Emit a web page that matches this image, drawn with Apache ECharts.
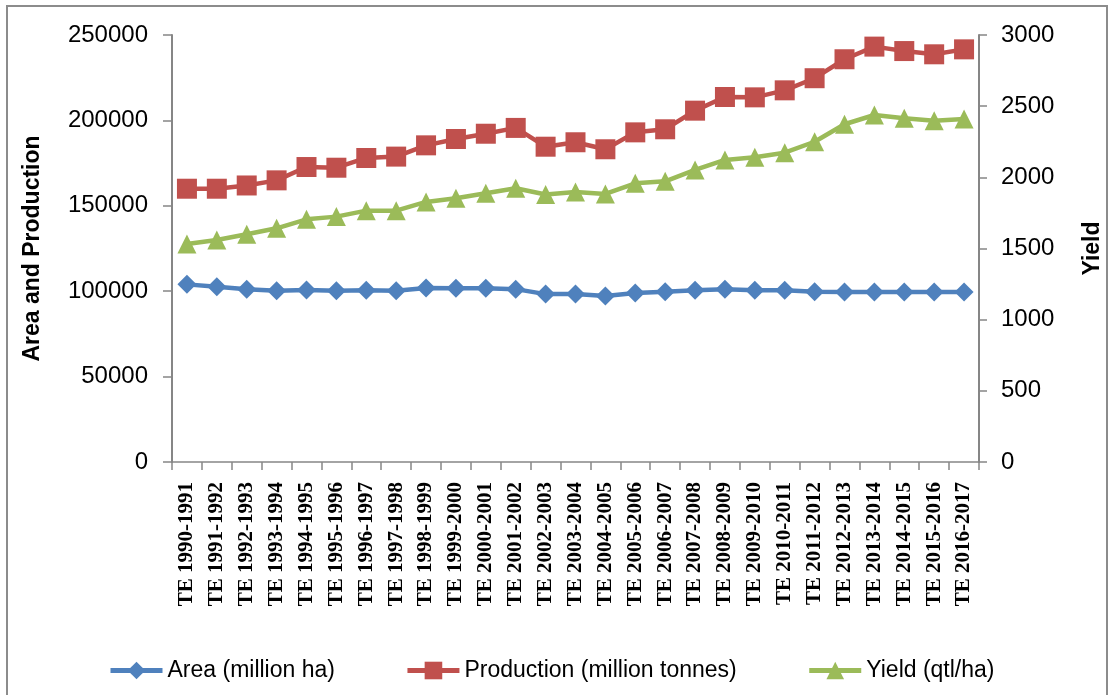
<!DOCTYPE html>
<html>
<head>
<meta charset="utf-8">
<script src="https://cdn.jsdelivr.net/npm/echarts@6/dist/echarts.min.js"></script>
<style>
  html, body { margin: 0; padding: 0; background: #fff; }
  #chart { width: 1112px; height: 695px; }
</style>
</head>
<body>
<div id="chart"></div>
<script>
// Triennium-ending periods on the category axis
const categories = [
  'TE 1990-1991', 'TE 1991-1992', 'TE 1992-1993', 'TE 1993-1994', 'TE 1994-1995',
  'TE 1995-1996', 'TE 1996-1997', 'TE 1997-1998', 'TE 1998-1999', 'TE 1999-2000',
  'TE 2000-2001', 'TE 2001-2002', 'TE 2002-2003', 'TE 2003-2004', 'TE 2004-2005',
  'TE 2005-2006', 'TE 2006-2007', 'TE 2007-2008', 'TE 2008-2009', 'TE 2009-2010',
  'TE 2010-2011', 'TE 2011-2012', 'TE 2012-2013', 'TE 2013-2014', 'TE 2014-2015',
  'TE 2015-2016', 'TE 2016-2017'
];

// Area (million ha) - left axis
const area = [
  104000, 102600, 101100, 100300, 100700, 100300, 100500, 100300, 101900, 101700,
  101700, 101200, 98300, 98400, 97200, 98900, 99700, 100500, 101200, 100500,
  100500, 99700, 99600, 99600, 99500, 99500, 99600
];

// Production (million tonnes) - left axis
const production = [
  160000, 160000, 161900, 164900, 172700, 172300, 178000, 178800, 185400, 189100,
  192200, 195600, 184600, 187200, 183100, 193000, 194800, 205700, 213700, 213500,
  217600, 224700, 235800, 243200, 240600, 238700, 241600
];

// Yield (qtl/ha) - right axis
const yieldQtl = [
  1532, 1560, 1600, 1642, 1705, 1724, 1766, 1766, 1827, 1853,
  1888, 1923, 1879, 1897, 1883, 1958, 1972, 2052, 2122, 2141,
  2173, 2250, 2373, 2438, 2415, 2398, 2410
];

const seriesNames = ['Area (million ha)', 'Production (million tonnes)', 'Yield (qtl/ha)'];
const leftAxisTitle = 'Area and Production';
const rightAxisTitle = 'Yield';

const BLUE = '#4F81BD', RED = '#C0504D', GREEN = '#9BBB59', AXIS = '#868686';
const SANS = 'Liberation Sans, Arial, sans-serif';

// plain integers, no thousands separators
const plain = v => String(v);

const chart = echarts.init(document.getElementById('chart'), null, { renderer: 'canvas' });

chart.setOption({
  backgroundColor: '#ffffff',
  animation: false,
  graphic: [{
    type: 'rect',
    shape: { x: 7, y: 6, width: 1100, height: 700 },
    style: { fill: 'none', stroke: '#8c8c8c', lineWidth: 2 },
    silent: true,
    z: -10
  }],
  grid: { left: 172, right: 130, top: 35, bottom: 233, containLabel: false },
  legend: {
    left: 103,
    top: 654,
    itemWidth: 52,
    itemHeight: 22,
    itemGap: 70,
    lineStyle: { width: 5 },
    textStyle: { fontFamily: SANS, fontSize: 23, color: '#000' },
    data: seriesNames
  },
  xAxis: {
    type: 'category',
    data: categories,
    boundaryGap: true,
    axisLine: { lineStyle: { color: AXIS, width: 1.5 } },
    axisTick: { show: true, inside: false, length: 8, alignWithLabel: false, lineStyle: { color: AXIS, width: 1.5 } },
    axisLabel: {
      rotate: 90,
      interval: 0,
      margin: 20,
      fontFamily: 'Liberation Serif, Times New Roman, serif',
      fontWeight: 'bold',
      fontSize: 21,
      color: '#000'
    }
  },
  yAxis: [{
    type: 'value',
    min: 0, max: 250000, interval: 50000,
    name: leftAxisTitle,
    nameLocation: 'middle',
    nameRotate: 90,
    nameGap: 128,
    nameTextStyle: { fontFamily: SANS, fontWeight: 'bold', fontSize: 23, color: '#000' },
    axisLine: { show: true, lineStyle: { color: AXIS, width: 2 } },
    axisTick: { show: true, length: 9, lineStyle: { color: AXIS, width: 1.5 } },
    axisLabel: { margin: 24, fontFamily: SANS, fontSize: 24, color: '#000', formatter: plain },
    splitLine: { show: false }
  }, {
    type: 'value',
    min: 0, max: 3000, interval: 500,
    position: 'right',
    name: rightAxisTitle,
    nameLocation: 'middle',
    nameRotate: 90,
    nameGap: 102,
    nameTextStyle: { fontFamily: SANS, fontWeight: 'bold', fontSize: 23, color: '#000' },
    axisLine: { show: true, lineStyle: { color: AXIS, width: 2 } },
    axisTick: { show: true, length: 8, lineStyle: { color: AXIS, width: 1.5 } },
    axisLabel: { margin: 22, fontFamily: SANS, fontSize: 24, color: '#000', formatter: plain },
    splitLine: { show: false }
  }],
  series: [{
    name: seriesNames[0],
    type: 'line',
    yAxisIndex: 0,
    data: area,
    symbol: 'diamond',
    symbolSize: 19,
    lineStyle: { color: BLUE, width: 4.5 },
    itemStyle: { color: BLUE }
  }, {
    name: seriesNames[1],
    type: 'line',
    yAxisIndex: 0,
    data: production,
    symbol: 'rect',
    symbolSize: 20,
    lineStyle: { color: RED, width: 4.5 },
    itemStyle: { color: RED }
  }, {
    name: seriesNames[2],
    type: 'line',
    yAxisIndex: 1,
    data: yieldQtl,
    symbol: 'triangle',
    symbolSize: 19,
    lineStyle: { color: GREEN, width: 4.5 },
    itemStyle: { color: GREEN }
  }]
});
</script>
</body>
</html>
